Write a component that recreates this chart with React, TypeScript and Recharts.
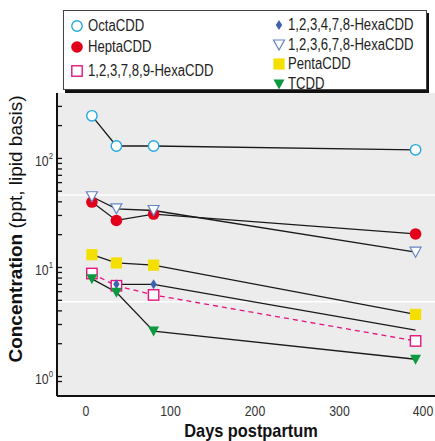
import { LineChart, Line, XAxis, YAxis, CartesianGrid, ReferenceLine } from 'recharts'

// sampling days after birth
const days = [7, 36, 80, 390]

// concentrations, ppt lipid basis
const octaCDD = [246, 130, 130, 120]
const heptaCDD = [39.8, 27, 30.9, 20.3]
const hexa123789 = [8.8, 6.8, 5.6, 2.12]
const hexa123478 = [null, 7.0, 7.0, 2.66]
const hexa123678 = [44.5, 34.5, 33.3, 13.8]
const pentaCDD = [13.1, 11.0, 10.5, 3.71]
const tcdd = [7.87, 5.93, 2.61, 1.44]

const xTicks = [0, 100, 200, 300, 400]
const yTicks = [0.9, 1, 2, 3, 4, 5, 6, 7, 8, 9, 10, 20, 30, 40, 50, 60, 70, 80, 90, 100, 200, 300]
const decadeLabels: Record<number, string> = { 1: '0', 10: '1', 100: '2' }
const whiteRules = [46.2, 4.85]

const FONT = '"Liberation Sans", Arial, Helvetica, sans-serif'
// horizontal squeeze so the sans reads like a condensed face
const SQUEEZE = 0.82

type Kind = 'openCircle' | 'dot' | 'openSquare' | 'diamond' | 'openTriangle' | 'square' | 'triangle'

const series: { key: string; name: string; values: (number | null)[]; kind: Kind; color: string; dashed?: boolean; hideLast?: boolean }[] = [
  { key: 'octa', name: 'OctaCDD', values: octaCDD, kind: 'openCircle', color: '#22a8e0' },
  { key: 'hepta', name: 'HeptaCDD', values: heptaCDD, kind: 'dot', color: '#e2001a' },
  { key: 'h789', name: '1,2,3,7,8,9-HexaCDD', values: hexa123789, kind: 'openSquare', color: '#e5137f', dashed: true },
  { key: 'h478', name: '1,2,3,4,7,8-HexaCDD', values: hexa123478, kind: 'diamond', color: '#3d62ae', hideLast: true },
  { key: 'h678', name: '1,2,3,6,7,8-HexaCDD', values: hexa123678, kind: 'openTriangle', color: '#6585c2' },
  { key: 'penta', name: 'PentaCDD', values: pentaCDD, kind: 'square', color: '#f4e000' },
  { key: 'tcdd', name: 'TCDD', values: tcdd, kind: 'triangle', color: '#0b9a3d' },
]

const rows = days.map((day, i) => {
  const row: Record<string, number | null> = { day }
  series.forEach((s) => { row[s.key] = s.values[i] })
  return row
})

function Marker({ kind, color, cx, cy }: { kind: Kind; color: string; cx: number; cy: number }) {
  switch (kind) {
    case 'openCircle':
      return <circle cx={cx} cy={cy} r={5.2} fill="#fff" stroke={color} strokeWidth={1.4} />
    case 'dot':
      return <circle cx={cx} cy={cy} r={5.8} fill={color} />
    case 'openSquare':
      return <rect x={cx - 5.2} y={cy - 5.2} width={10.4} height={10.4} fill="#fff" stroke={color} strokeWidth={1.4} />
    case 'square':
      return <rect x={cx - 5.6} y={cy - 5.6} width={11.2} height={11.2} fill={color} />
    case 'diamond':
      return <path d={`M${cx},${cy - 5} L${cx + 3.2},${cy} L${cx},${cy + 5} L${cx - 3.2},${cy} Z`} fill={color} />
    case 'openTriangle':
      return <path d={`M${cx - 5.5},${cy - 5} L${cx + 5.5},${cy - 5} L${cx},${cy + 5} Z`} fill="#fff" stroke={color} strokeWidth={1.2} />
    case 'triangle':
      return <path d={`M${cx - 5.5},${cy - 4.5} L${cx + 5.5},${cy - 4.5} L${cx},${cy + 5.5} Z`} fill={color} />
  }
}

function YTick({ x, y, payload }: any) {
  const v = payload.value
  const sup = decadeLabels[v]
  return (
    <g>
      <line x1={x} x2={x + 5} y1={y} y2={y} stroke="#111" strokeWidth={1.3} />
      {sup !== undefined && (
        <text transform={`translate(${x - 4},${y + 7.5}) scale(${SQUEEZE},1)`} textAnchor="end" fill="#333" fontSize={15} fontFamily={FONT}>
          10<tspan fontSize={9.5} dy={-7}>{sup}</tspan>
        </text>
      )}
    </g>
  )
}

function XTick({ x, y, payload }: any) {
  return (
    <text transform={`translate(${x},${y + 20}) scale(${SQUEEZE},1)`} textAnchor="middle" fill="#333" fontSize={15} fontFamily={FONT}>
      {payload.value}
    </text>
  )
}

// legend rows: [left, centre y] inside the box
const legendSpots = [
  [6, 15], [6, 36], [6, 60],
  [208, 14], [208, 34], [208, 53], [208, 73],
]

function LegendItem({ s, left, mid, gap }: { s: (typeof series)[number]; left: number; mid: number; gap: number }) {
  return (
    <div style={{ position: 'absolute', left, top: mid - 10, height: 20, display: 'flex', alignItems: 'center', whiteSpace: 'nowrap' }}>
      <svg width={14} height={14} style={{ marginRight: gap }}>
        <Marker kind={s.kind} color={s.color} cx={7} cy={7} />
      </svg>
      <span style={{ display: 'inline-block', transform: `scaleX(${SQUEEZE})`, transformOrigin: 'left center' }}>{s.name}</span>
    </div>
  )
}

export default function App() {
  return (
    <div style={{ position: 'absolute', left: 0, top: 0, width: 435, height: 441, overflow: 'hidden', background: '#fff', fontFamily: FONT }}>
      <LineChart width={435} height={441} data={rows} margin={{ top: 93, right: 0, bottom: 0, left: 0 }}>
        <CartesianGrid fill="#ececec" stroke="none" horizontal={false} vertical={false} />
        {whiteRules.map((v) => (
          <ReferenceLine key={v} y={v} stroke="#fff" strokeWidth={1.3} />
        ))}
        <XAxis
          dataKey="day"
          type="number"
          domain={[-34.3, 413]}
          allowDataOverflow
          ticks={xTicks}
          tickLine={false}
          tickSize={0}
          tickMargin={0}
          height={45}
          axisLine={{ stroke: '#111', strokeWidth: 2 }}
          tick={<XTick />}
        />
        <YAxis
          type="number"
          scale="log"
          domain={[0.663, 398]}
          allowDataOverflow
          ticks={yTicks}
          interval={0}
          tickLine={false}
          tickSize={0}
          tickMargin={0}
          width={57}
          axisLine={{ stroke: '#111', strokeWidth: 2 }}
          tick={<YTick />}
        />
        {series.map((s) => (
          <Line
            key={s.key}
            dataKey={s.key}
            stroke={s.dashed ? s.color : '#1a1a1a'}
            strokeWidth={1.3}
            strokeDasharray={s.dashed ? '5 4' : undefined}
            isAnimationActive={false}
            connectNulls={false}
            dot={(p: any) => {
              if (p.cy == null || p.value == null || (s.hideLast && p.index === days.length - 1)) return <g key={p.index} />
              return <Marker key={p.index} kind={s.kind} color={s.color} cx={p.cx} cy={p.cy} />
            }}
            activeDot={false}
          />
        ))}
      </LineChart>

      <div
        style={{
          position: 'absolute', left: 63, top: 10, width: 362, height: 78,
          border: '1px solid #444', boxShadow: '2px 3px 0 #111', background: '#fff',
          fontSize: 16, color: '#222',
        }}
      >
        {series.map((s, i) => (
          <LegendItem key={s.key} s={s} left={legendSpots[i][0]} mid={legendSpots[i][1]} gap={i < 3 ? 4 : 2} />
        ))}
      </div>

      <div
        style={{
          position: 'absolute', left: 15, top: 229, transform: 'translate(-50%, -50%) rotate(-90deg)',
          whiteSpace: 'nowrap', fontSize: 19, color: '#111', lineHeight: '19px',
        }}
      >
        <b>Concentration</b> (ppt, lipid basis)
      </div>
      <div
        style={{
          position: 'absolute', left: 251, top: 422, transform: `translateX(-50%) scaleX(0.86)`,
          whiteSpace: 'nowrap', fontSize: 19, fontWeight: 'bold', color: '#111', lineHeight: '17px',
        }}
      >
        Days postpartum
      </div>
    </div>
  )
}
